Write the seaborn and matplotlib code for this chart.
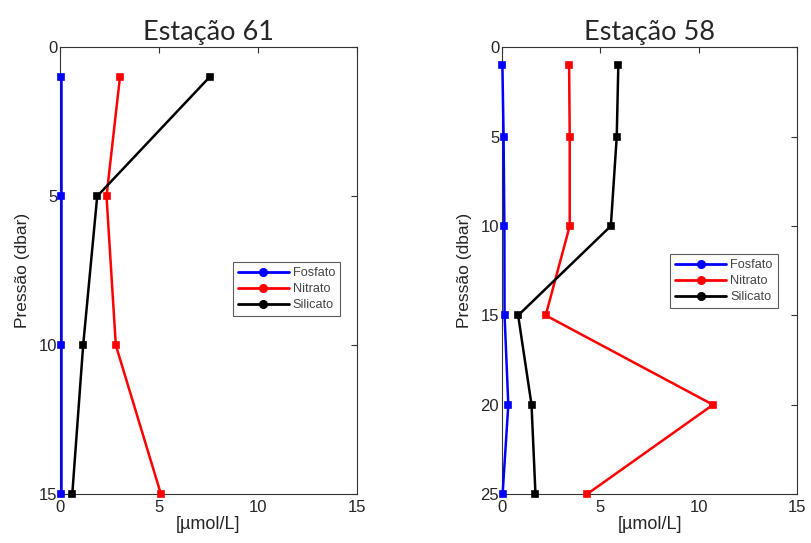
import matplotlib
matplotlib.use("Agg")
import matplotlib.pyplot as plt
from matplotlib.lines import Line2D
import seaborn as sns
import pandas as pd

# Estação 61
depth_61 = [1, 5, 10, 15]
fosfato_61 = [0.05, 0.05, 0.05, 0.05]
nitrato_61 = [3.03, 2.35, 2.82, 5.1]
silicato_61 = [7.56, 1.88, 1.17, 0.62]

# Estação 58
depth_58 = [1, 5, 10, 15, 20, 25]
fosfato_58 = [0.02, 0.08, 0.12, 0.13, 0.32, 0.03]
nitrato_58 = [3.41, 3.44, 3.44, 2.22, 10.72, 4.32]
silicato_58 = [5.91, 5.83, 5.53, 0.82, 1.5, 1.7]

series_names = ["Fosfato", "Nitrato", "Silicato"]
colors = {"Fosfato": "#0000ff", "Nitrato": "#ff0000", "Silicato": "#000000"}
titles = ["Estação 61", "Estação 58"]


def make_df(depth, fos, nit, sil):
    rows = []
    for name, vals in zip(series_names, [fos, nit, sil]):
        for d, v in zip(depth, vals):
            rows.append({"pressao": d, "valor": v, "nutriente": name})
    return pd.DataFrame(rows)


dfs = [make_df(depth_61, fosfato_61, nitrato_61, silicato_61),
       make_df(depth_58, fosfato_58, nitrato_58, silicato_58)]
ymax = [15, 25]
yticks = [[0, 5, 10, 15], [0, 5, 10, 15, 20, 25]]

sns.set_style("white")
plt.rcParams["font.family"] = ["Liberation Sans", "DejaVu Sans"]

fig = plt.figure(figsize=(8.11, 5.43), dpi=100)
positions = [[0.074, 0.090, 0.366, 0.823], [0.619, 0.090, 0.364, 0.823]]
legend_pos = [(0.582, 0.398), (0.569, 0.416)]

for i in range(2):
    ax = fig.add_axes(positions[i])
    sns.lineplot(data=dfs[i], x="valor", y="pressao", hue="nutriente",
                 palette=colors, orient="y", sort=False, estimator=None,
                 marker="s", markersize=5, markeredgewidth=1.2,
                 linewidth=1.8, ax=ax, legend=False)
    for ln in ax.lines:
        ln.set_markeredgecolor(ln.get_color())
        ln.set_clip_on(False)
        ln.set_zorder(3)
    ax.set_xlim(0, 15)
    ax.set_ylim(ymax[i], 0)
    ax.set_xticks([0, 5, 10, 15])
    ax.set_yticks(yticks[i])
    ax.tick_params(direction="in", top=True, right=True, length=4,
                   width=0.8, color="#333333", labelsize=12)
    ax.tick_params(axis="x", pad=4)
    ax.tick_params(axis="y", pad=2)
    for s in ax.spines.values():
        s.set_color("#333333")
        s.set_linewidth(0.8)
    ax.set_xlabel("[µmol/L]", fontsize=13, labelpad=1)
    ax.set_ylabel("Pressão (dbar)", fontsize=12.5, labelpad=6)
    ax.set_title(titles[i], fontsize=19.5, family=["Lato", "DejaVu Sans"], pad=5)
    handles = [Line2D([0], [0], color=colors[n], lw=2, marker="o",
                      markersize=5.5) for n in series_names]
    leg = ax.legend(handles, series_names, loc="lower left",
                    bbox_to_anchor=legend_pos[i], fontsize=9.2,
                    frameon=True, fancybox=False, handlelength=4.0,
                    handletextpad=0.3, borderpad=0.4, labelspacing=0.3,
                    borderaxespad=0)
    leg.get_frame().set_edgecolor("#333333")
    leg.get_frame().set_linewidth(0.8)
    for t in leg.get_texts():
        t.set_color("#444444")

fig.savefig("out.png", dpi=100)
